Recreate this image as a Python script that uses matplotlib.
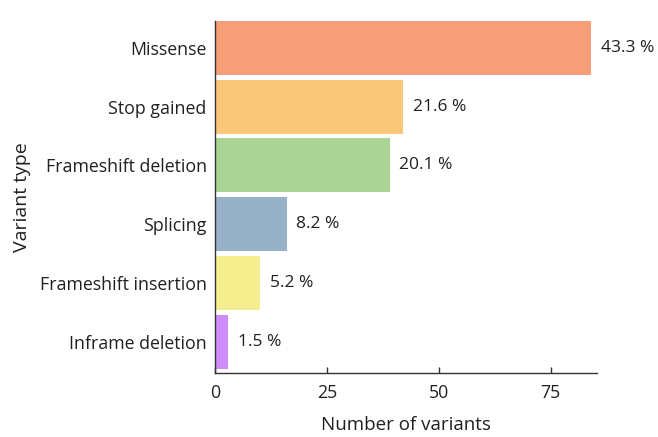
import matplotlib
matplotlib.use("Agg")
import matplotlib.pyplot as plt

# data
variant_types = ["Missense", "Stop gained", "Frameshift deletion", "Splicing",
                 "Frameshift insertion", "Inframe deletion"]
counts = [84, 42, 39, 16, 10, 3]
pct_labels = ["43.3 %", "21.6 %", "20.1 %", "8.2 %", "5.2 %", "1.5 %"]
bar_colors = ["#F59E78", "#FAC77A", "#A9D496", "#96B1C8", "#F5EE8E", "#CF8BFA"]

plt.rcParams["font.family"] = ["Open Sans", "DejaVu Sans"]
text_col = "#231f20"

fig = plt.figure(figsize=(6.58, 4.37), dpi=100)
ax = fig.add_axes([215 / 658, (437 - 373.3) / 437, (597 - 215) / 658, (373.3 - 21) / 437])

ypos = list(range(len(variant_types)))
ax.barh(ypos, counts, height=0.92, color=bar_colors, edgecolor="none")

for y, c, lab in zip(ypos, counts, pct_labels):
    ax.annotate(lab, (c, y), xytext=(7, 0), textcoords="offset points",
                ha="left", va="center", fontsize=12.5, color=text_col,
                annotation_clip=False)

ax.set_xlim(0, 85.3)
ax.set_ylim(5.54, -0.46)
ax.set_yticks(ypos)
ax.set_yticklabels(variant_types, fontsize=12.8, color=text_col)
ax.tick_params(axis="y", length=0, pad=6)
ax.set_xticks([0, 25, 50, 75])
ax.tick_params(axis="x", direction="in", length=4, width=1, colors="#333333",
               labelcolor=text_col, labelsize=12.8, pad=8)

for s in ["top", "right"]:
    ax.spines[s].set_visible(False)
for s in ["left", "bottom"]:
    ax.spines[s].set_color("#333333")
    ax.spines[s].set_linewidth(1)

ax.set_xlabel("Number of variants", fontsize=13.5, color=text_col, labelpad=10)
ax.set_ylabel("Variant type", fontsize=14, color=text_col, labelpad=6)

fig.savefig("out.png", dpi=100)
